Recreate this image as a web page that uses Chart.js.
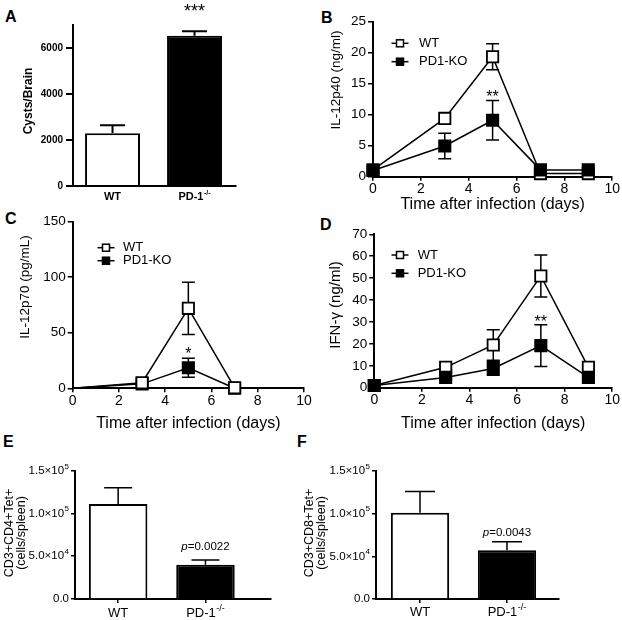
<!DOCTYPE html>
<html>
<head>
<meta charset="utf-8">
<script src="https://cdn.jsdelivr.net/npm/chart.js@4.4.1/dist/chart.umd.min.js"></script>
<style>
  body { margin: 0; background: #fff; }
  #fig { position: relative; width: 622px; height: 620px; overflow: hidden; }
  #fig canvas { position: absolute; }
  .tag { position: absolute; font: bold 16px "Liberation Sans", Arial, sans-serif; line-height: 1; }
</style>
</head>
<body>
<div id="fig">
  <div class="tag" style="left:5px;top:9px">A</div>
  <div class="tag" style="left:321px;top:10px">B</div>
  <div class="tag" style="left:5px;top:211px">C</div>
  <div class="tag" style="left:320px;top:217px">D</div>
  <div class="tag" style="left:3px;top:434px">E</div>
  <div class="tag" style="left:297px;top:434px">F</div>
  <canvas id="cA" width="300" height="210" style="left:0;top:0"></canvas>
  <canvas id="cB" width="311" height="214" style="left:311px;top:0"></canvas>
  <canvas id="cC" width="320" height="223" style="left:0;top:210px"></canvas>
  <canvas id="cD" width="311" height="223" style="left:311px;top:210px"></canvas>
  <canvas id="cE" width="300" height="180" style="left:0;top:440px"></canvas>
  <canvas id="cF" width="322" height="180" style="left:300px;top:440px"></canvas>
</div>
<script>
// ---- data ----
const groups = ['WT', 'PD-1^-/-'];

// A: cysts per brain
const cysts = [2290, 6535];
const cystsErr = [350, 190];
const cystsTicks = [0, 2000, 4000, 6000];

// shared time axis
const dayTicks = [0, 2, 4, 6, 8, 10];

// B: IL-12p40 (ng/ml)
const daysB = [0, 3, 5, 7, 9];
const p40WT = [1.1, 9.4, 19.35, 0.5, 0.5];
const p40WTErr = [0, 0, 2.1, 0, 0];
const p40KO = [1.0, 4.95, 9.1, 1.1, 1.1];
const p40KOErr = [0, 2.05, 3.2, 0, 0];
const p40Ticks = [0, 5, 10, 15, 20, 25];

// C: IL-12p70 (pg/mL)
const daysC = [0, 3, 5, 7];
const p70WT = [0, 5, 72, 0.5];
const p70WTErr = [0, 0, 23.5, 0];
const p70KO = [0, 4, 18.5, 0];
const p70KOErr = [0, 0, 8.5, 0];
const p70Ticks = [0, 50, 100, 150];

// D: IFN-gamma (ng/ml)
const daysD = [0, 3, 5, 7, 9];
const ifnWT = [1, 9.3, 19.5, 51, 9.3];
const ifnWTErr = [0, 1, 7, 9.6, 1];
const ifnKO = [1, 4.7, 8.8, 19.2, 4.7];
const ifnKOErr = [0, 0.8, 3.1, 9.5, 0.6];
const ifnTicks = [0, 10, 20, 30, 40, 50, 60, 70];

// E / F: tetramer+ cells per spleen
const cd4 = [111000, 40000];
const cd4Err = [19000, 5500];
const cd8 = [101000, 57000];
const cd8Err = [25000, 10000];
const cellTicks = [0, 50000, 100000, 150000];

// significance marks [x, y, text]
const starsA = [2, 7550, '***'];
const starsB = [5, 12.8, '**'];
const starsC = [5, 30.5, '*'];
const starsD = [7, 29.7, '**'];
const pE = [2, 61100, 'p=0.0022'];
const pF = [2, 77700, 'p=0.0043'];

// ---- drawing ----
const FAMILY = "'Liberation Sans', Arial, Helvetica, sans-serif";
const INK = '#000';
Chart.defaults.font.family = FAMILY;
Chart.defaults.color = INK;

function richText(ctx, str, x, y, size, bold, align) {
  const [base, sup] = String(str).split('^');
  const w = bold ? 'bold ' : '';
  const f1 = w + size + 'px ' + FAMILY;
  const f2 = w + Math.round(size * 0.68) + 'px ' + FAMILY;
  ctx.font = f1; const wb = ctx.measureText(base).width;
  ctx.font = f2; const ws = sup ? ctx.measureText(sup).width + 0.5 : 0;
  let x0 = x;
  if (align === 'right') x0 = x - wb - ws;
  else if (align === 'center') x0 = x - (wb + ws) / 2;
  ctx.textAlign = 'left'; ctx.textBaseline = 'middle'; ctx.fillStyle = INK;
  ctx.font = f1; ctx.fillText(base, x0, y);
  if (sup) { ctx.font = f2; ctx.fillText(sup, x0 + wb + 0.5, y - size * 0.38); }
}

const figPlugin = {
  id: 'fig',
  beforeDatasetsDraw(chart, args, o) {
    const ctx = chart.ctx, ys = chart.scales.y;
    ctx.save();
    ctx.strokeStyle = INK; ctx.lineWidth = o.errWidth || 1.5;
    chart.data.datasets.forEach((ds, di) => {
      if (!ds.err) return;
      const meta = chart.getDatasetMeta(di);
      meta.data.forEach((el, i) => {
        const e = ds.err[i];
        if (!e) return;
        const v = ds.data[i].y;
        const top = ys.getPixelForValue(v + e);
        const bot = ys.getPixelForValue(ds.errUpOnly ? v : v - e);
        const x = el.x, c = o.cap / 2;
        ctx.beginPath();
        ctx.moveTo(x, bot); ctx.lineTo(x, top);
        ctx.moveTo(x - c, top); ctx.lineTo(x + c, top);
        if (!ds.errUpOnly) { ctx.moveTo(x - c, bot); ctx.lineTo(x + c, bot); }
        ctx.stroke();
      });
    });
    ctx.restore();
  },
  afterDraw(chart, args, o) {
    const ctx = chart.ctx, xs = chart.scales.x, ys = chart.scales.y;
    ctx.save();
    if (o.xLabels) {
      xs.ticks.forEach((t, i) => richText(ctx, o.xLabels[i], xs.getPixelForValue(t.value),
        xs.top + o.xGap, o.xSize, o.bold, 'center'));
    }
    if (o.yFormat) {
      ys.ticks.forEach(t => richText(ctx, o.yFormat(t.value), ys.right - o.yGap,
        ys.getPixelForValue(t.value), o.ySize, false, 'right'));
    }
    if (o.yTitle) {
      const T = o.yTitle;
      ctx.save();
      ctx.translate(T.x, T.y); ctx.rotate(-Math.PI / 2);
      ctx.font = (T.bold ? 'bold ' : '') + T.size + 'px ' + FAMILY;
      ctx.textAlign = 'center'; ctx.textBaseline = 'middle'; ctx.fillStyle = INK;
      [].concat(T.text).forEach((ln, k) => ctx.fillText(ln, 0, k * (T.lh || 0)));
      ctx.restore();
    }
    (o.notes || []).forEach(n => {
      const [nx, ny, txt] = n.mark;
      const px = xs.getPixelForValue(nx), py = ys.getPixelForValue(ny);
      ctx.fillStyle = INK; ctx.textBaseline = 'middle';
      if (n.italicLead) {
        const f1 = 'italic ' + n.size + 'px ' + FAMILY, f2 = n.size + 'px ' + FAMILY;
        ctx.font = f1; const w1 = ctx.measureText(txt[0]).width;
        ctx.font = f2; const w2 = ctx.measureText(txt.slice(1)).width;
        const x0 = px - (w1 + w2) / 2;
        ctx.textAlign = 'left';
        ctx.font = f1; ctx.fillText(txt[0], x0, py);
        ctx.font = f2; ctx.fillText(txt.slice(1), x0 + w1, py);
      } else {
        ctx.font = n.size + 'px ' + FAMILY; ctx.textAlign = 'center';
        ctx.fillText(txt, px, py);
      }
    });
    if (o.legend) {
      const L = o.legend;
      chart.data.datasets.forEach((ds, k) => {
        const y = L.y + k * L.dy, s = L.size;
        ctx.strokeStyle = INK; ctx.lineWidth = 1.5;
        ctx.beginPath(); ctx.moveTo(L.x - L.len / 2, y); ctx.lineTo(L.x + L.len / 2, y); ctx.stroke();
        ctx.fillStyle = ds.pointBackgroundColor;
        ctx.fillRect(L.x - s / 2, y - s / 2, s, s);
        ctx.strokeRect(L.x - s / 2, y - s / 2, s, s);
        ctx.fillStyle = INK; ctx.font = '13px ' + FAMILY;
        ctx.textAlign = 'left'; ctx.textBaseline = 'middle';
        ctx.fillText(ds.label, L.textX, y);
      });
    }
    ctx.restore();
  }
};

function axisBox(w, h, area) {
  return {
    padding: { left: 0, top: area[1], right: w - area[2], bottom: 0 },
    yFit: s => { s.width = area[0]; },
    xFit: s => { s.height = h - area[3]; }
  };
}

function lineSet(label, days, vals, errs, filled, order, radius) {
  return {
    label, order,
    data: days.map((d, i) => ({ x: d, y: vals[i] })),
    err: errs,
    borderColor: INK, borderWidth: 1.5,
    pointStyle: 'rect', pointRadius: radius, pointBorderWidth: 1.8,
    pointBorderColor: INK,
    pointBackgroundColor: filled ? INK : '#fff',
    backgroundColor: filled ? INK : '#fff',
    tension: 0, clip: false
  };
}

function timeChart(id, area, datasets, yMax, yTicks, fig) {
  const cv = document.getElementById(id);
  const box = axisBox(cv.width, cv.height, area);
  return new Chart(cv, {
    type: 'line',
    data: { datasets },
    options: {
      responsive: false, animation: false, devicePixelRatio: 1,
      layout: { padding: box.padding },
      plugins: { legend: { display: false }, tooltip: { enabled: false }, fig },
      scales: {
        x: {
          type: 'linear', min: 0, max: 10,
          afterBuildTicks: s => { s.ticks = dayTicks.map(v => ({ value: v })); },
          afterFit: box.xFit,
          grid: { display: true, drawOnChartArea: false, drawTicks: true, tickLength: 4, color: INK, lineWidth: 1.5 },
          border: { display: true, color: INK, width: 2 },
          ticks: { font: { size: 14 }, padding: 0, maxRotation: 0, autoSkip: false },
          title: { display: true, text: 'Time after infection (days)', font: { size: 16 }, padding: 0 }
        },
        y: {
          min: 0, max: yMax,
          afterBuildTicks: s => { s.ticks = yTicks.map(v => ({ value: v })); },
          afterFit: box.yFit,
          grid: { display: true, drawOnChartArea: false, drawTicks: true, tickLength: 5, color: INK, lineWidth: 1.5 },
          border: { display: true, color: INK, width: 2 },
          ticks: { font: { size: 13.5 }, padding: 2, autoSkip: false }
        }
      }
    },
    plugins: [figPlugin]
  });
}

function barChart(id, area, vals, errs, xMin, xMax, yMax, yTicks, yStyle, xTickLen, fig) {
  const cv = document.getElementById(id);
  const box = axisBox(cv.width, cv.height, area);
  return new Chart(cv, {
    type: 'bar',
    data: {
      datasets: [{
        data: vals.map((v, i) => ({ x: i + 1, y: v })),
        err: errs, errUpOnly: true,
        backgroundColor: ['#fff', INK], borderColor: INK, borderWidth: 2,
        borderSkipped: 'bottom', inflateAmount: 0, clip: false,
        barPercentage: 0.67, categoryPercentage: 1
      }]
    },
    options: {
      responsive: false, animation: false, devicePixelRatio: 1,
      layout: { padding: box.padding },
      plugins: { legend: { display: false }, tooltip: { enabled: false }, fig },
      scales: {
        x: {
          type: 'linear', min: xMin, max: xMax, offset: false,
          afterBuildTicks: s => { s.ticks = groups.map((g, i) => ({ value: i + 1 })); },
          afterFit: box.xFit,
          grid: { display: xTickLen > 0, offset: false, drawOnChartArea: false, drawTicks: true, tickLength: xTickLen, color: INK, lineWidth: 1.5 },
          border: { display: true, color: INK, width: 2 },
          ticks: { callback: () => '', autoSkip: false }
        },
        y: {
          min: 0, max: yMax,
          afterBuildTicks: s => { s.ticks = yTicks.map(v => ({ value: v })); },
          afterFit: box.yFit,
          grid: { display: true, drawOnChartArea: false, drawTicks: true, tickLength: yStyle.tickLength, color: INK, lineWidth: yStyle.tickWidth },
          border: { display: true, color: INK, width: 2, z: 1 },
          ticks: yStyle.ticks
        }
      }
    },
    plugins: [figPlugin]
  });
}

function sci(v) {
  if (v === 0) return '0.0';
  const e = Math.floor(Math.log10(v));
  return (v / Math.pow(10, e)).toFixed(1) + '×10^' + e;
}

// A
barChart('cA', [73, 25, 236, 186], cysts, cystsErr, 0.518, 2.506, 7000, cystsTicks,
  { tickLength: 7, tickWidth: 2, ticks: { font: { size: 10, weight: 'bold' }, padding: 3, autoSkip: false, callback: v => String(v) } }, 0,
  { cap: 25, errWidth: 2, xLabels: groups, xGap: 11, xSize: 11, bold: true,
    yTitle: { text: 'Cysts/Brain', x: 29, y: 101, size: 12, bold: true },
    notes: [{ mark: starsA, size: 18 }] });

// B
timeChart('cB', [62, 21.7, 303, 176.7], [
  lineSet('WT', daysB, p40WT, p40WTErr, false, 1, 8),
  lineSet('PD1-KO', daysB, p40KO, p40KOErr, true, 0, 8)
], 25, p40Ticks, {
  cap: 13, yTitle: { text: 'IL-12p40 (ng/ml)', x: 25, y: 80, size: 13.5 },
  notes: [{ mark: starsB, size: 16 }],
  legend: { x: 89, y: 43.3, dy: 18.4, len: 17, size: 7, textX: 108 }
});

// C
timeChart('cC', [72.7, 11.7, 304, 178.3], [
  lineSet('WT', daysC, p70WT, p70WTErr, false, 0, [0, 8, 8, 8]),
  lineSet('PD1-KO', daysC, p70KO, p70KOErr, true, 1, [0, 8, 8, 8])
], 150, p70Ticks, {
  cap: 13, yTitle: { text: 'IL-12p70 (pg/mL)', x: 25, y: 77, size: 13.5 },
  notes: [{ mark: starsC, size: 16 }],
  legend: { x: 106, y: 37.7, dy: 13, len: 17, size: 7, textX: 123 }
});

// D
timeChart('cD', [63.3, 24.3, 301.7, 177.7], [
  lineSet('WT', daysD, ifnWT, ifnWTErr, false, 1, 8),
  lineSet('PD1-KO', daysD, ifnKO, ifnKOErr, true, 0, 8)
], 70, ifnTicks, {
  cap: 13, yTitle: { text: 'IFN-γ (ng/ml)', x: 25, y: 95, size: 15 },
  notes: [{ mark: starsD, size: 16 }],
  legend: { x: 89, y: 45, dy: 18.3, len: 17, size: 7, textX: 106.7 }
});

// E
const cellY = { tickLength: 4, tickWidth: 1.5, ticks: { callback: () => '', autoSkip: false } };
barChart('cE', [75, 30.7, 270.7, 159], cd4, cd4Err, 0.506, 2.747, 150000, cellTicks, cellY, 4,
  { cap: 28, xLabels: groups, xGap: 14, xSize: 13, yFormat: sci, yGap: 6, ySize: 11.5,
    yTitle: { text: ['CD3+CD4+Tet+', '(cells/spleen)'], x: 10, y: 93, size: 12.5, lh: 12 },
    notes: [{ mark: pE, size: 11.5, italicLead: true }] });

// F
barChart('cF', [76, 31, 259, 159], cd8, cd8Err, 0.494, 2.598, 150000, cellTicks, cellY, 4,
  { cap: 30, xLabels: groups, xGap: 13.5, xSize: 13, yFormat: sci, yGap: 6, ySize: 11.5,
    yTitle: { text: ['CD3+CD8+Tet+', '(cells/spleen)'], x: 10, y: 93, size: 12.5, lh: 12 },
    notes: [{ mark: pF, size: 11.5, italicLead: true }] });
</script>
</body>
</html>
